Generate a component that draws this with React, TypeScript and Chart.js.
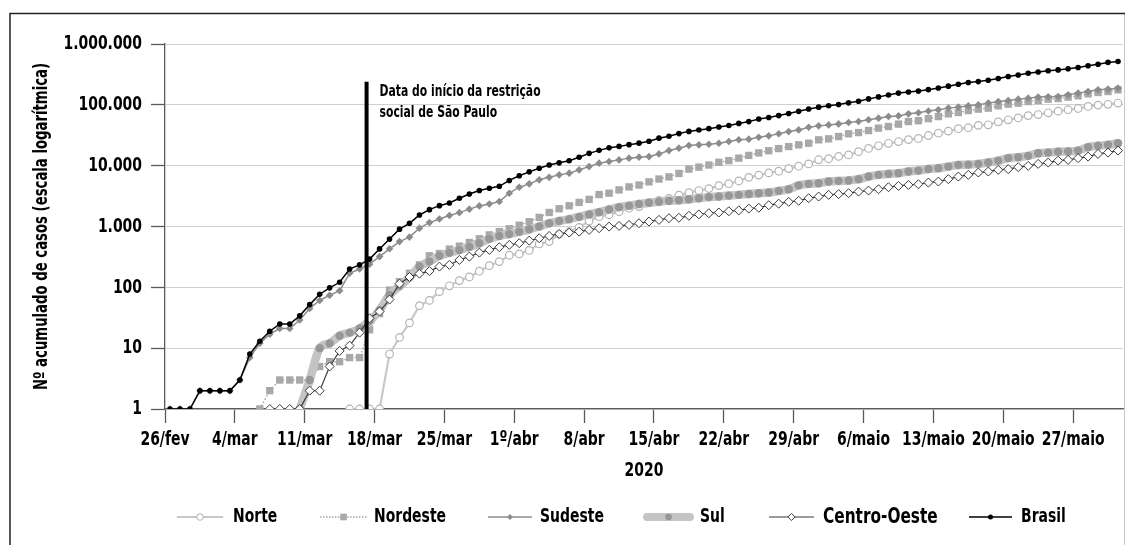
import React, { useEffect, useRef } from 'react';
import { Chart, registerables } from 'chart.js';

Chart.register(...registerables);

// ---- Data (cumulative cases, 26/fev/2020 .. 31/maio/2020, one value per day) ----
const brasil = [1,1,1,2,2,2,2,3,8,13,19,25,25,34,52,77,98,121,200,234,291,428,621,904,1128,1546,1891,2201,2433,2915,3417,3904,4256,4579,5717,6836,7910,9056,10278,11130,12056,13717,15927,17857,19638,20727,22169,23430,25262,28320,30425,33682,36599,38654,40581,43079,45757,49492,52995,58509,61888,66501,71886,78162,85380,91589,96559,101147,107780,114715,125218,135106,145328,155939,162699,168331,177589,188974,202918,218223,233142,241080,254220,271628,291579,310087,330890,347398,363211,374898,391222,411821,438238,465166,498440,514849];

const sudeste = [1,1,1,2,2,2,2,3,7,12,17,21,21,29,45,61,74,88,170,200,240,320,430,565,670,940,1160,1330,1520,1690,1930,2180,2350,2570,3530,4430,5020,5850,6430,7060,7530,8530,9660,11000,11700,12450,13300,13800,14100,15600,17700,19400,21500,22000,22500,23400,24900,26600,27300,29400,30900,33400,36300,38700,42900,45100,46800,48600,51200,53100,56800,60400,64200,65800,71100,74000,79000,82700,88300,91700,96300,100000,106700,113300,117700,124100,128900,133900,136000,137400,146300,155800,165500,176500,181000,188000];

const nordeste = [null,null,null,null,null,null,null,null,null,1,2,3,3,3,3,5,6,6,7,7,20,37,90,124,170,234,330,360,425,476,546,629,727,824,918,1050,1200,1410,1700,1960,2190,2490,2790,3350,3530,4000,4480,4800,5420,6030,6540,7450,8770,9460,10250,11350,12100,13300,14750,16200,17600,19100,20600,22000,23400,26600,27600,30100,33400,35000,37800,41400,44000,48200,53100,54800,59300,64200,71100,74800,80600,85000,88300,96300,102600,106700,113300,117700,124100,127000,133900,140700,151700,159400,165500,176500];

const norte = [null,null,null,null,null,null,null,null,null,null,null,null,null,null,null,null,null,null,1,1,1,1,8,15,26,50,61,85,106,129,148,184,227,265,337,354,404,517,565,743,820,968,1230,1450,1560,1750,2000,2130,2480,2690,2900,3270,3600,3900,4200,4700,5050,5600,6430,7000,7600,8100,8950,9800,10700,12500,13000,14200,15000,17000,19200,21200,23300,24900,26800,28000,31300,34200,37000,40500,42000,46000,47000,52500,56800,61000,66500,69200,74000,78800,83000,87000,94000,99000,102000,107000];

const sul = [null,null,null,null,null,null,null,null,null,null,null,null,null,1,3,10,12,16,18,21,28,42,75,105,145,220,265,330,370,410,460,530,630,700,750,820,900,1000,1130,1230,1320,1440,1580,1720,1900,2080,2200,2340,2450,2560,2650,2700,2800,2920,3040,3120,3220,3310,3420,3530,3620,3850,4100,4750,5020,5150,5480,5620,5690,6000,6620,7060,7330,7530,8000,8300,8800,9100,9660,10300,10400,10700,11250,12100,13300,13800,14500,16000,16400,17000,17100,17700,20100,21200,22000,23400];

const centroOeste = [null,null,null,null,null,null,null,null,null,null,1,1,1,1,2,2,5,9,11,18,31,40,63,115,148,168,185,219,234,282,320,372,412,457,498,531,586,641,700,755,794,824,879,937,996,1023,1062,1132,1205,1285,1370,1390,1500,1580,1650,1700,1780,1840,1970,2030,2240,2370,2540,2650,2920,3105,3310,3400,3530,3750,3900,4100,4430,4650,4830,4950,5270,5480,6000,6620,7060,7710,8000,8530,8770,9460,9930,10700,11250,12100,12450,13300,14100,15600,16400,17700];

const xTickDays = [0,7,14,21,28,35,42,49,56,63,70,77,84,91];
const xTickLabels = ['26/fev','4/mar','11/mar','18/mar','25/mar','1º/abr','8/abr','15/abr','22/abr','29/abr','6/maio','13/maio','20/maio','27/maio'];
const yTickValues = [1,10,100,1000,10000,100000,1000000];
const totalDays = 96;

const yTitle = 'Nº acumulado de casos (escala logarítmica)';
const xTitle = '2020';
const annotationLines = ['Data do início da restrição', 'social de São Paulo'];
const restrictionDay = 20.2;
const restrictionTop = 240000;

// ---- Styles ----
const FONT = "'DejaVu Sans Condensed', 'DejaVu Sans', sans-serif";
const SX = 0.775; // horizontal condensing of text

const fmt = (v: number) => String(v).replace(/\B(?=(\d{3})+(?!\d))/g, '.');
const toPoints = (arr: (number | null)[]) => arr.map((v, i) => ({ x: i + 0.5, y: v }));

function drawText(ctx: CanvasRenderingContext2D, text: string, x: number, y: number, size: number, align: CanvasTextAlign, rotate = false, sx = SX) {
  ctx.save();
  ctx.translate(x, y);
  if (rotate) ctx.rotate(-Math.PI / 2);
  ctx.scale(sx, 1);
  ctx.font = `bold ${size}px ${FONT}`;
  ctx.textAlign = align;
  ctx.textBaseline = 'middle';
  ctx.fillStyle = '#000';
  ctx.fillText(text, 0, 0);
  ctx.restore();
}

type LegendStyle = {
  name: string; lineStart: number; lineEnd: number; textX: number; fontSize: number;
  color: string; width: number; dash?: number[]; cap?: CanvasLineCap;
  marker: 'circle' | 'rect' | 'diamond'; r: number; fill: string; stroke?: string;
};

const legendStyles: LegendStyle[] = [
  { name: 'Norte', lineStart: 177, lineEnd: 223, textX: 233, fontSize: 20, color: '#c8c8c8', width: 2, marker: 'circle', r: 3.3, fill: '#ffffff', stroke: '#b4b4b4' },
  { name: 'Nordeste', lineStart: 320, lineEnd: 367, textX: 374, fontSize: 20, color: '#a8a8a8', width: 1.4, dash: [1.5, 1.5], marker: 'rect', r: 3.3, fill: '#a8a8a8' },
  { name: 'Sudeste', lineStart: 488, lineEnd: 532, textX: 540, fontSize: 20, color: '#8c8c8c', width: 1.4, marker: 'diamond', r: 3, fill: '#8c8c8c' },
  { name: 'Sul', lineStart: 647, lineEnd: 690, textX: 700, fontSize: 20, color: '#c4c4c4', width: 8, cap: 'round', marker: 'circle', r: 3.3, fill: '#979797' },
  { name: 'Centro-Oeste', lineStart: 769, lineEnd: 814, textX: 823, fontSize: 22, color: '#3a3a3a', width: 1.2, marker: 'diamond', r: 3.6, fill: '#ffffff', stroke: '#3a3a3a' },
  { name: 'Brasil', lineStart: 969, lineEnd: 1012, textX: 1021, fontSize: 20, color: '#000000', width: 1.5, marker: 'circle', r: 2.5, fill: '#000000' },
];

const framePlugin = {
  id: 'frame',
  beforeDraw(chart: any) {
    const ctx = chart.ctx;
    ctx.save();
    ctx.strokeStyle = '#c8c8c8';
    ctx.lineWidth = 1;
    ctx.beginPath();
    ctx.moveTo(1124.5, 13);
    ctx.lineTo(1124.5, 545);
    ctx.stroke();
    ctx.strokeStyle = '#222222';
    ctx.lineWidth = 1.5;
    ctx.beginPath();
    ctx.moveTo(10, 545);
    ctx.lineTo(10, 13.5);
    ctx.lineTo(1125, 13.5);
    ctx.stroke();
    ctx.restore();
  },
};

const annotationPlugin = {
  id: 'restriction',
  afterDatasetsDraw(chart: any) {
    const { ctx, scales } = chart;
    const px = scales.x.getPixelForValue(restrictionDay);
    const yb = scales.y.getPixelForValue(1);
    const yt = scales.y.getPixelForValue(restrictionTop);
    ctx.save();
    ctx.strokeStyle = '#000';
    ctx.lineWidth = 4;
    ctx.beginPath();
    ctx.moveTo(px, yb);
    ctx.lineTo(px, yt);
    ctx.stroke();
    ctx.restore();
    drawText(ctx, annotationLines[0], px + 13, yt + 10, 15.5, 'left');
    drawText(ctx, annotationLines[1], px + 13, yt + 31, 15.5, 'left');
  },
};

const axisTextPlugin = {
  id: 'axisText',
  afterDraw(chart: any) {
    const { ctx, scales, chartArea } = chart;
    const xs = scales.x;
    const ys = scales.y;
    yTickValues.forEach((v) => {
      drawText(ctx, fmt(v), chartArea.left - 23, ys.getPixelForValue(v), 20, 'right');
    });
    xTickDays.forEach((d, i) => {
      drawText(ctx, xTickLabels[i], xs.getPixelForValue(d), chartArea.bottom + 31, 20, 'center');
    });
    drawText(ctx, xTitle, (chartArea.left + chartArea.right) / 2, chartArea.bottom + 62, 20, 'center');
    drawText(ctx, yTitle, 42, (chartArea.top + chartArea.bottom) / 2, 19, 'center', true);
  },
};

function drawMarker(ctx: CanvasRenderingContext2D, s: LegendStyle, x: number, y: number) {
  ctx.beginPath();
  if (s.marker === 'circle') {
    ctx.arc(x, y, s.r, 0, Math.PI * 2);
  } else if (s.marker === 'rect') {
    ctx.rect(x - s.r, y - s.r, 2 * s.r, 2 * s.r);
  } else {
    ctx.moveTo(x - s.r, y);
    ctx.lineTo(x, y - s.r);
    ctx.lineTo(x + s.r, y);
    ctx.lineTo(x, y + s.r);
    ctx.closePath();
  }
  ctx.fillStyle = s.fill;
  ctx.fill();
  if (s.stroke) {
    ctx.strokeStyle = s.stroke;
    ctx.lineWidth = 1;
    ctx.stroke();
  }
}

const legendPlugin = {
  id: 'customLegend',
  afterDraw(chart: any) {
    const ctx: CanvasRenderingContext2D = chart.ctx;
    const y = 517;
    legendStyles.forEach((s) => {
      ctx.save();
      ctx.beginPath();
      ctx.strokeStyle = s.color;
      ctx.lineWidth = s.width;
      ctx.lineCap = s.cap || 'butt';
      ctx.setLineDash(s.dash || []);
      ctx.moveTo(s.lineStart, y);
      ctx.lineTo(s.lineEnd, y);
      ctx.stroke();
      ctx.setLineDash([]);
      drawMarker(ctx, s, (s.lineStart + s.lineEnd) / 2, y);
      ctx.restore();
      drawText(ctx, s.name, s.textX, y, s.fontSize, 'left');
    });
  },
};

export default function App() {
  const canvasRef = useRef<HTMLCanvasElement | null>(null);

  useEffect(() => {
    if (!canvasRef.current) return;
    const datasets: any[] = [
      { label: 'Brasil', data: toPoints(brasil), borderColor: '#000000', borderWidth: 1.5, pointStyle: 'circle', pointRadius: 2.8, pointBackgroundColor: '#000000', pointBorderWidth: 0 },
      { label: 'Centro-Oeste', data: toPoints(centroOeste), borderColor: '#3a3a3a', borderWidth: 1.2, pointStyle: 'rectRot', pointRadius: 4.5, pointBackgroundColor: '#ffffff', pointBorderColor: '#3a3a3a', pointBorderWidth: 1 },
      { label: 'Sul', data: toPoints(sul), borderColor: '#c4c4c4', borderWidth: 8.5, cubicInterpolationMode: 'monotone', borderCapStyle: 'round', borderJoinStyle: 'round', pointStyle: 'circle', pointRadius: 4.2, pointBackgroundColor: '#979797', pointBorderWidth: 0 },
      { label: 'Sudeste', data: toPoints(sudeste), borderColor: '#8c8c8c', borderWidth: 1.5, pointStyle: 'rectRot', pointRadius: 3.8, pointBackgroundColor: '#8c8c8c', pointBorderWidth: 0 },
      { label: 'Nordeste', data: toPoints(nordeste), borderColor: '#a8a8a8', borderWidth: 1.5, borderDash: [1.5, 2], pointStyle: 'rect', pointRadius: 5.2, pointBackgroundColor: '#a8a8a8', pointBorderWidth: 0 },
      { label: 'Norte', data: toPoints(norte), borderColor: '#c8c8c8', borderWidth: 2.2, pointStyle: 'circle', pointRadius: 3.8, pointBackgroundColor: '#ffffff', pointBorderColor: '#b4b4b4', pointBorderWidth: 1.2 },
    ];

    const chart = new Chart(canvasRef.current, {
      type: 'line',
      data: { datasets },
      options: {
        animation: false,
        responsive: false,
        devicePixelRatio: 1,
        layout: { padding: { left: 0, right: 9, top: 44, bottom: 0 } },
        plugins: { legend: { display: false }, tooltip: { enabled: false } },
        scales: {
          x: {
            type: 'linear',
            min: 0,
            max: totalDays,
            afterBuildTicks: (scale: any) => { scale.ticks = xTickDays.map((v) => ({ value: v })); },
            afterFit: (scale: any) => { scale.height = 136; },
            ticks: { display: false },
            grid: { drawOnChartArea: false, drawTicks: true, tickLength: 14, tickColor: '#5a5a5a', tickWidth: 1.3 },
            border: { display: true, color: '#5a5a5a', width: 1.3 },
            title: { display: false },
          },
          y: {
            type: 'logarithmic',
            min: 1,
            max: 1000000,
            afterBuildTicks: (scale: any) => { scale.ticks = yTickValues.map((v) => ({ value: v })); },
            afterFit: (scale: any) => { scale.width = 165; },
            ticks: { display: false },
            grid: { color: '#d0d0d0', lineWidth: 1, drawTicks: true, tickLength: 14, tickColor: '#5a5a5a', tickWidth: 1.3 },
            border: { display: true, color: '#5a5a5a', width: 1.3 },
            title: { display: false },
          },
        },
      } as any,
      plugins: [framePlugin, annotationPlugin, axisTextPlugin, legendPlugin],
    });
    return () => chart.destroy();
  }, []);

  return (
    <div style={{ position: 'absolute', left: 0, top: 0, width: 1132, height: 545, background: '#fff' }}>
      <canvas ref={canvasRef} width={1132} height={545} style={{ display: 'block' }} />
    </div>
  );
}
